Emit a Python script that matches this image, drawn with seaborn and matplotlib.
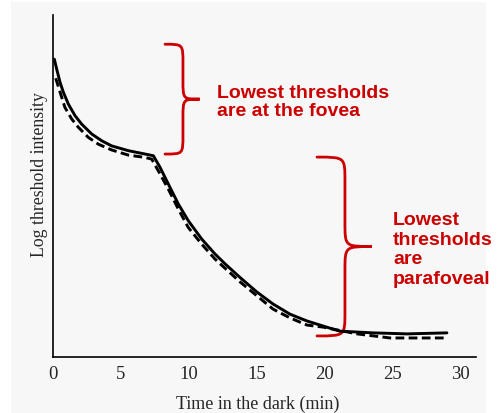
import numpy as np
import pandas as pd
import matplotlib
matplotlib.use("Agg")
import matplotlib.pyplot as plt
from matplotlib.path import Path
from matplotlib.patches import PathPatch, Rectangle
import seaborn as sns

# ---- data (time in min, log threshold in arbitrary units) ----
solid_t = [0.10, 0.27, 0.52, 0.76, 1.13, 1.62, 2.11, 2.85, 3.59, 4.32, 5.54, 6.78, 7.39,
           7.88, 8.49, 9.23, 9.96, 10.95, 11.93, 12.67, 13.77, 15.02, 16.20, 17.45,
           18.70, 20.62, 21.13, 23.56, 26.07, 29.01]
solid_v = [8.76, 8.47, 8.08, 7.79, 7.44, 7.10, 6.85, 6.56, 6.36, 6.21, 6.07, 5.97, 5.92,
           5.58, 5.09, 4.50, 4.01, 3.47, 3.03, 2.74, 2.34, 1.91, 1.56, 1.26,
           1.06, 0.82, 0.76, 0.71, 0.68, 0.71]
dashed_t = [0.20, 0.52, 0.88, 1.38, 1.86, 2.60, 3.34, 4.32, 5.54, 6.78, 7.27,
            7.75, 8.49, 9.23, 9.96, 10.95, 11.93, 13.77, 16.20, 17.45, 18.70, 19.88,
            22.39, 24.82, 29.01]
dashed_v = [8.20, 7.79, 7.34, 7.00, 6.76, 6.46, 6.26, 6.09, 5.94, 5.87, 5.82,
            5.48, 4.94, 4.35, 3.81, 3.32, 2.88, 2.21, 1.41, 1.15, 0.94, 0.88,
            0.68, 0.56, 0.56]
xticks = [0, 5, 10, 15, 20, 25, 30]

df = pd.concat([
    pd.DataFrame({"t": solid_t, "v": solid_v, "curve": "solid"}),
    pd.DataFrame({"t": dashed_t, "v": dashed_v, "curve": "dashed"}),
])

sns.set_style("white")
W, H = 498, 414
fig = plt.figure(figsize=(W / 100, H / 100), dpi=100, facecolor="white")
fig.patches.append(Rectangle((11 / W, 0), (486 - 11) / W, 411 / H, transform=fig.transFigure,
                             facecolor="#f7f7f7", edgecolor="none", zorder=-10))
ax = fig.add_axes([53 / W, 1 - 358 / H, (476 - 53) / W, (358 - 16) / H])
ax.set_facecolor("none")

sns.lineplot(data=df, x="t", y="v", hue="curve", style="curve",
             palette={"solid": "black", "dashed": "black"},
             dashes={"solid": "", "dashed": (3.0, 1.5)},
             linewidth=2.1, sort=False, estimator=None, legend=False, ax=ax)

ax.set_xlim(0, 31.15)
ax.set_ylim(0, 10.06)
ax.set_xticks(xticks)
ax.set_xticklabels([str(x) for x in xticks], family="Liberation Serif", fontsize=13.5)
ax.set_yticks([])
ax.tick_params(axis="x", direction="in", length=4, width=1.1, color="black", pad=6)
for s in ["top", "right"]:
    ax.spines[s].set_visible(False)
for s in ["left", "bottom"]:
    ax.spines[s].set_color("black")
    ax.spines[s].set_linewidth(1.2)

ax.set_xlabel("Time in the dark (min)", family="Liberation Serif", fontsize=13)
ax.set_ylabel("Log threshold intensity", family="Liberation Serif", fontsize=12.8)
ax.xaxis.set_label_coords(0.485, -0.1345)
ax.xaxis.label.set_verticalalignment("center")
ax.yaxis.set_label_coords(-0.033, 0.535)
ax.yaxis.label.set_verticalalignment("center")

red = "#cc0000"


def brace(ax, x0, x1, x2, ytop, ybot, r):
    ymid = (ytop + ybot) / 2
    verts = [(x0, ytop), (x1, ytop), (x1, ytop), (x1, ytop - r),
             (x1, ymid + r),
             (x1, ymid), (x1, ymid), (x2, ymid),
             (x1, ymid), (x1, ymid), (x1, ymid - r),
             (x1, ybot + r),
             (x1, ybot), (x1, ybot), (x0, ybot)]
    codes = [Path.MOVETO, Path.CURVE4, Path.CURVE4, Path.CURVE4,
             Path.LINETO,
             Path.CURVE4, Path.CURVE4, Path.CURVE4,
             Path.CURVE4, Path.CURVE4, Path.CURVE4,
             Path.LINETO,
             Path.CURVE4, Path.CURVE4, Path.CURVE4]
    ax.add_patch(PathPatch(Path(verts, codes), facecolor="none", edgecolor=red,
                           lw=2.0, clip_on=False, capstyle="round"))


brace(ax, 8.25, 9.57, 10.8, 9.2, 5.97, 0.55)
brace(ax, 19.44, 21.5, 23.49, 5.88, 0.62, 0.7)

ax.text(12.08, 7.51, "Lowest thresholds\nare at the fovea", color=red, fontsize=14,
        fontweight="bold", family="Liberation Sans", ha="left", va="center",
        linespacing=1.1)
ax.text(25.04, 3.18, "Lowest\nthresholds\nare\nparafoveal", color=red, fontsize=14,
        fontweight="bold", family="Liberation Sans", ha="left", va="center",
        linespacing=1.2)

fig.savefig("out.png", dpi=100, facecolor="white")
